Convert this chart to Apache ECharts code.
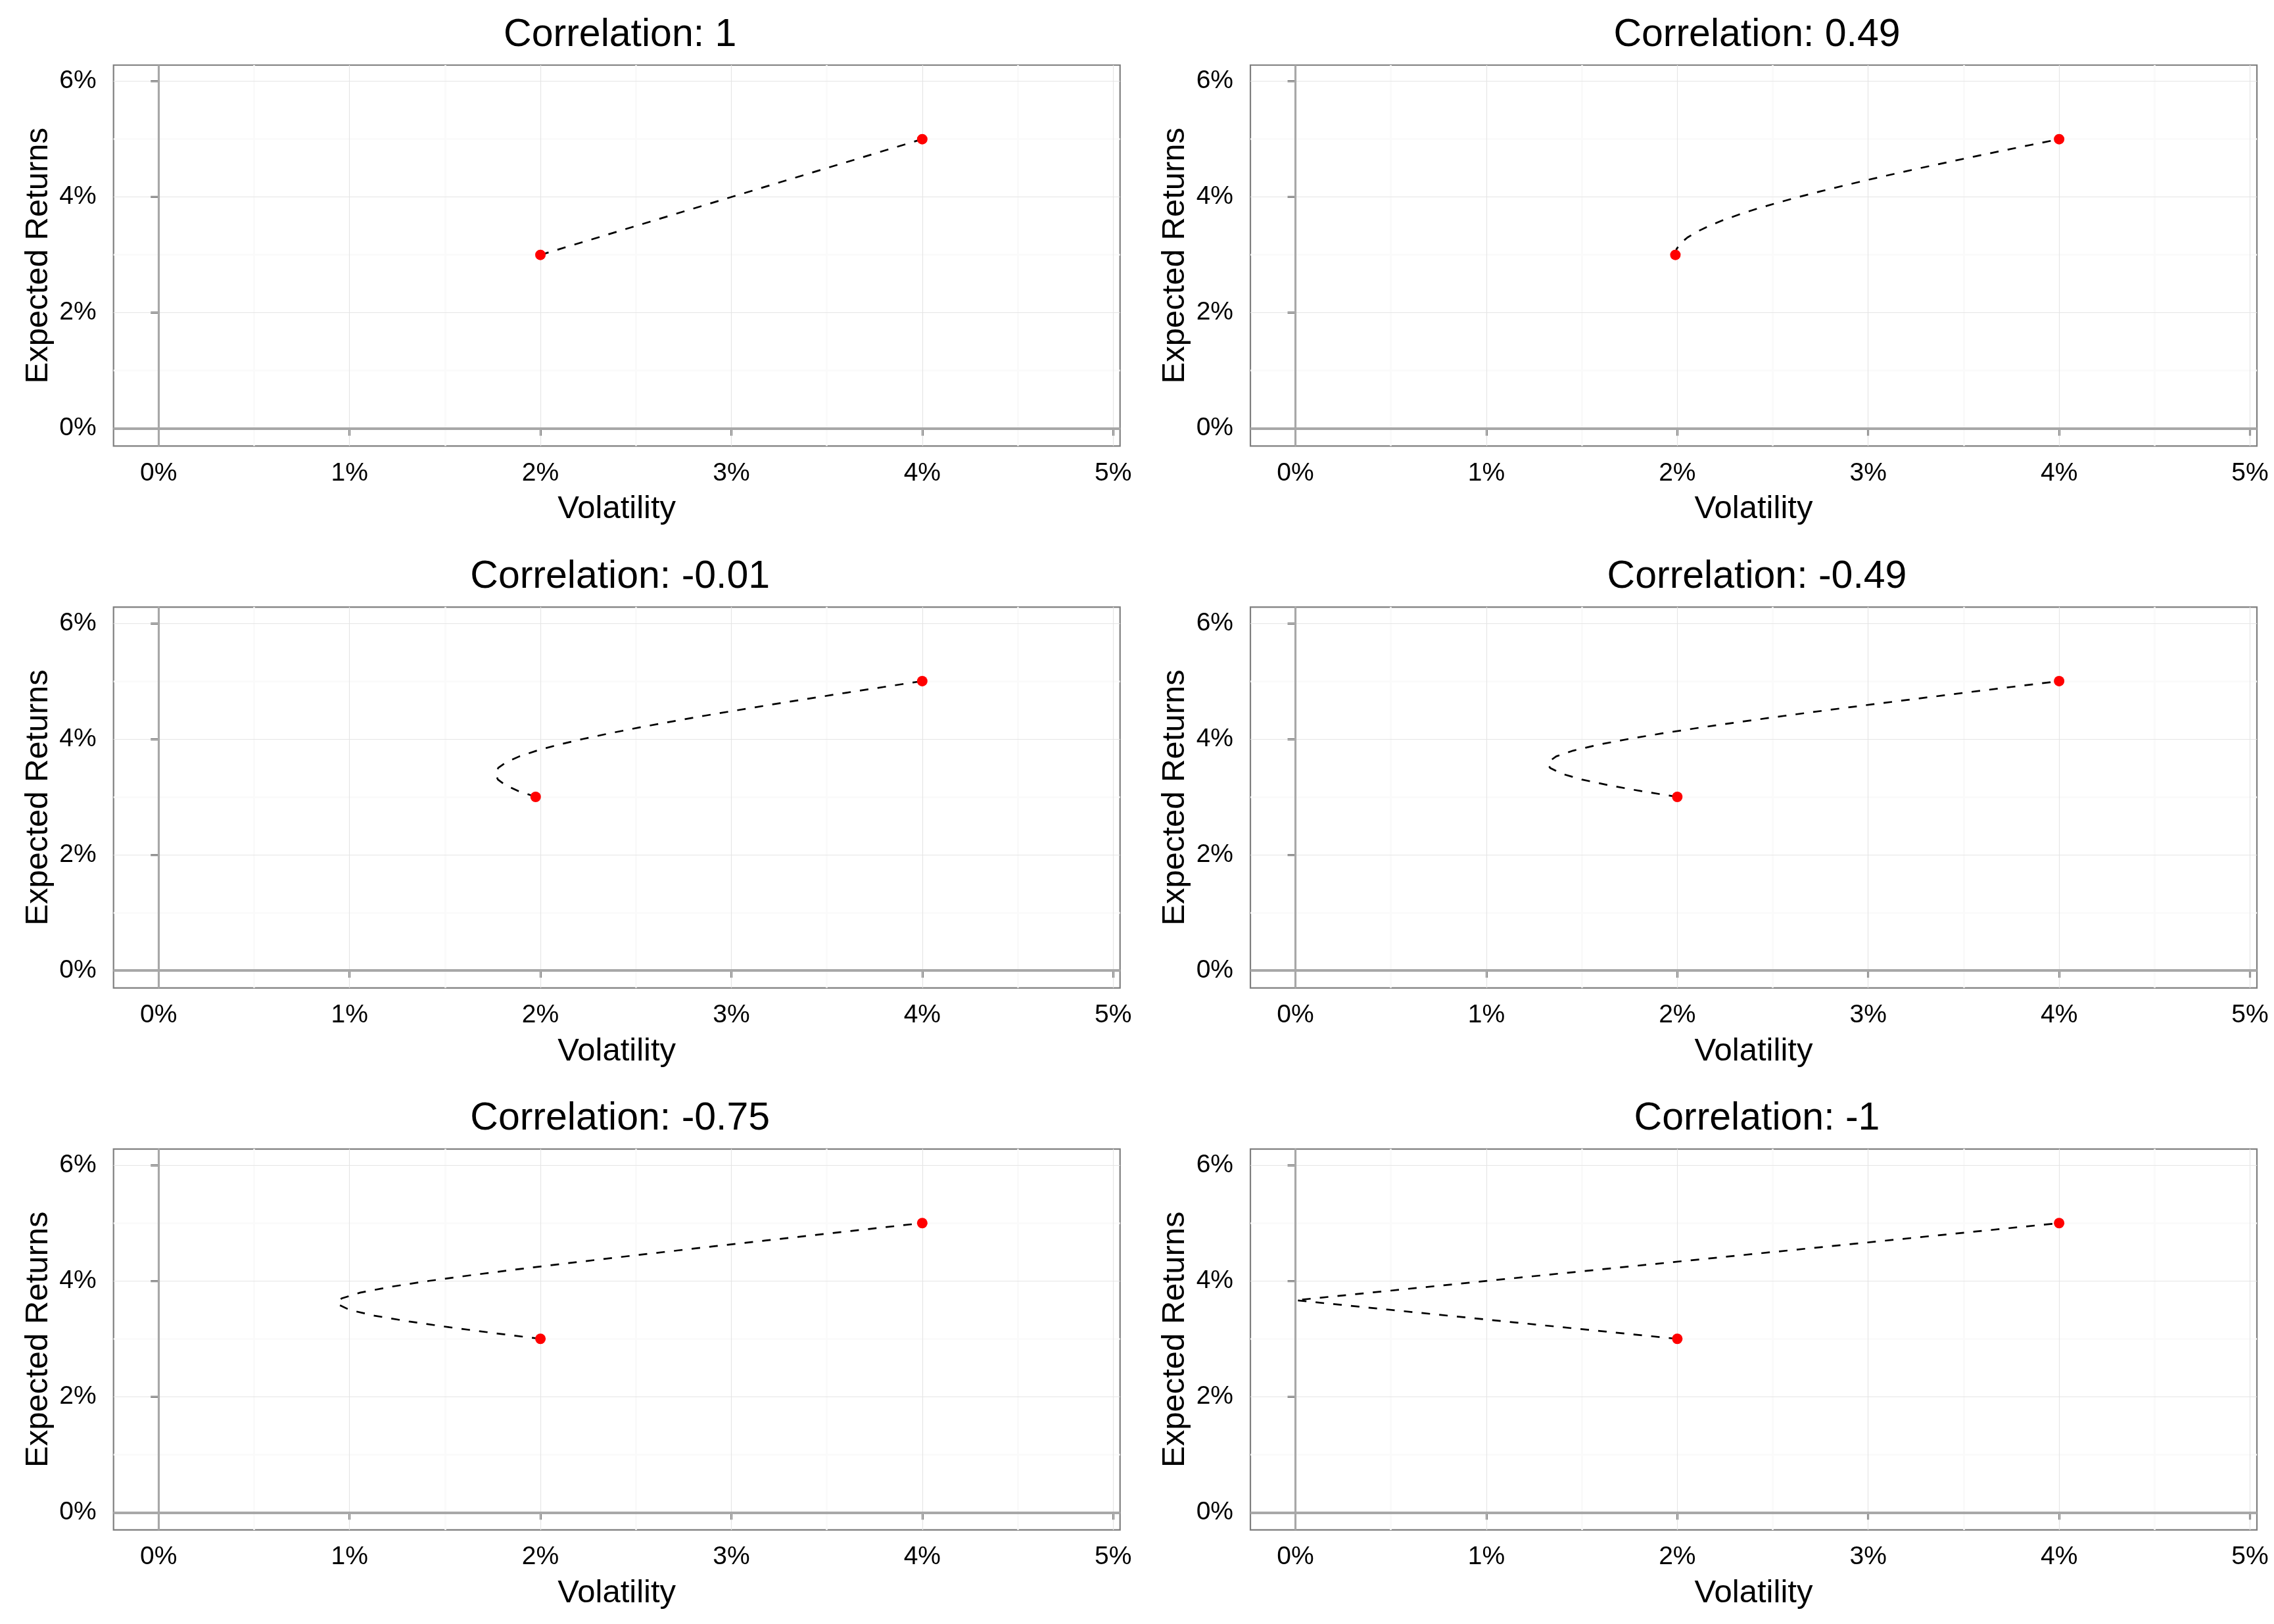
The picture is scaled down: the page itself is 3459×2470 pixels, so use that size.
<!DOCTYPE html>
<html>
<head>
<meta charset="utf-8">
<script src="https://cdn.jsdelivr.net/npm/echarts@6/dist/echarts.min.js"></script>
<style>
  html, body { margin: 0; padding: 0; background: #fff; }
  #chart { width: 3459px; height: 2470px; }
</style>
</head>
<body>
<div id="chart"></div>
<script>
// ---- Data ----
const panelTitles = ['Correlation: 1', 'Correlation: 0.49', 'Correlation: -0.01',
                     'Correlation: -0.49', 'Correlation: -0.75', 'Correlation: -1'];

// the two assets: [volatility %, expected return %]
const assets1 = [[2.0, 3.0], [4.0, 5.0]];
const assets2 = [[1.99, 3.0], [4.0, 5.0]];
const assets3 = [[1.975, 3.0], [4.0, 5.0]];
const assets4 = [[2.0, 3.0], [4.0, 5.0]];
const assets5 = [[2.0, 3.0], [4.0, 5.0]];
const assets6 = [[2.0, 3.0], [4.0, 5.0]];

// portfolio frontier curves: [volatility %, expected return %]
const frontier1 = [[2.0, 3.0], [4.0, 5.0]];
const frontier2 = [[1.990,3.0],[1.996,3.1],[2.017,3.2],[2.053,3.3],[2.103,3.4],[2.166,3.5],[2.240,3.6],
  [2.326,3.7],[2.420,3.8],[2.524,3.9],[2.634,4.0],[2.752,4.1],[2.875,4.2],[3.003,4.3],[3.136,4.4],
  [3.273,4.5],[3.413,4.6],[3.556,4.7],[3.702,4.8],[3.850,4.9],[4.0,5.0]];
const frontier3 = [[1.975,3.0],[1.885,3.1],[1.818,3.2],[1.777,3.3],[1.764,3.4],[1.779,3.5],[1.822,3.6],
  [1.890,3.7],[1.982,3.8],[2.093,3.9],[2.222,4.0],[2.365,4.1],[2.519,4.2],[2.684,4.3],[2.856,4.4],
  [3.036,4.5],[3.220,4.6],[3.410,4.7],[3.603,4.8],[3.800,4.9],[4.0,5.0]];
const frontier4 = [[2.0,3.0],[1.810,3.1],[1.642,3.2],[1.500,3.3],[1.395,3.4],[1.334,3.5],[1.322,3.57],
  [1.324,3.6],[1.366,3.7],[1.456,3.8],[1.584,3.9],[1.744,4.0],[1.926,4.1],[2.126,4.2],[2.338,4.3],
  [2.560,4.4],[2.789,4.5],[3.024,4.6],[3.264,4.7],[3.506,4.8],[3.752,4.9],[4.0,5.0]];
const frontier5 = [[2.0,3.0],[1.755,3.1],[1.523,3.2],[1.312,3.3],[1.131,3.4],[1.0,3.5],[0.938,3.6],
  [0.935,3.625],[0.959,3.7],[1.058,3.8],[1.217,3.9],[1.414,4.0],[1.637,4.1],[1.876,4.2],[2.126,4.3],
  [2.383,4.4],[2.646,4.5],[2.912,4.6],[3.181,4.7],[3.453,4.8],[3.726,4.9],[4.0,5.0]];
const frontier6 = [[2.0, 3.0], [0.0, 3.667], [4.0, 5.0]];

const xTicks = [0, 1, 2, 3, 4, 5];
const yTicks = [0, 2, 4, 6];
const xMinorGrid = [0.5, 1.5, 2.5, 3.5, 4.5];
const yMinorGrid = [1, 3, 5];
const xLabel = 'Volatility';
const yLabel = 'Expected Returns';

const assetsList = [assets1, assets2, assets3, assets4, assets5, assets6];
const frontierList = [frontier1, frontier2, frontier3, frontier4, frontier5, frontier6];

// ---- Layout ----
const FONT = '"Liberation Sans", Arial, sans-serif';
const colLeft = [172.7, 1902];
const rowTop = [99, 923.3, 1747.6];
const plotW = 1531, plotH = 579.3;

const grids = [], xAxes = [], yAxes = [], titles = [], series = [];

for (let i = 0; i < 6; i++) {
  const c = i % 2, r = Math.floor(i / 2);
  grids.push({
    left: colLeft[c], top: rowTop[r], width: plotW, height: plotH,
    show: true, backgroundColor: '#ffffff', borderColor: '#7f7f7f', borderWidth: 2.2,
    containLabel: false, outerBoundsMode: 'none'
  });
  titles.push({
    text: panelTitles[i], left: colLeft[c] + plotW / 2, top: rowTop[r] - 80, textAlign: 'center',
    textStyle: { fontSize: 59, fontWeight: 'normal', color: '#000', fontFamily: FONT }
  });
  xAxes.push({
    gridIndex: i, type: 'value', min: -0.236, max: 5.036,
    axisLine: { show: false },
    axisTick: { show: true, customValues: xTicks, length: 11, lineStyle: { color: '#333', width: 2.6 } },
    axisLabel: { customValues: xTicks, formatter: v => v + '%', color: '#000', fontSize: 39,
                 margin: 22, fontFamily: FONT },
    splitLine: { show: false },
    name: xLabel, nameLocation: 'middle', nameGap: 72,
    nameTextStyle: { fontSize: 49, color: '#000', fontFamily: FONT }
  });
  yAxes.push({
    gridIndex: i, type: 'value', min: -0.302, max: 6.28,
    axisLine: { show: false },
    axisTick: { show: true, customValues: yTicks, length: 12, lineStyle: { color: '#333', width: 2.6 } },
    axisLabel: { customValues: yTicks, formatter: v => v + '%', color: '#000', fontSize: 39,
                 margin: 26, fontFamily: FONT, padding: [8, 0, 0, 0] },
    splitLine: { show: false },
    name: yLabel, nameLocation: 'middle', nameGap: 90, nameRotate: 90,
    nameTextStyle: { fontSize: 49, color: '#000', fontFamily: FONT }
  });

  const gridLines = [];
  xMinorGrid.forEach(v => gridLines.push({ xAxis: v, lineStyle: { color: '#fafafa', width: 2.7, type: 'solid' } }));
  yMinorGrid.forEach(v => gridLines.push({ yAxis: v, lineStyle: { color: '#fafafa', width: 2.7, type: 'solid' } }));
  xTicks.forEach(v => gridLines.push({ xAxis: v, lineStyle: { color: '#e5e5e5', width: 1.2, type: 'solid' } }));
  yTicks.forEach(v => gridLines.push({ yAxis: v, lineStyle: { color: '#e5e5e5', width: 1.2, type: 'solid' } }));
  gridLines.push({ yAxis: 0, lineStyle: { color: '#a8a8a8', width: 4, type: 'solid' } });
  gridLines.push({ xAxis: 0, lineStyle: { color: '#a8a8a8', width: 3.2, type: 'solid' } });

  series.push({
    type: 'line', xAxisIndex: i, yAxisIndex: i, data: frontierList[i],
    showSymbol: false, smooth: false, z: 3, silent: true,
    lineStyle: { color: '#000', width: 2.7, type: [13, 14] }
  });
  series.push({
    type: 'scatter', xAxisIndex: i, yAxisIndex: i, data: assetsList[i],
    symbol: 'circle', symbolSize: 16, z: 4, silent: true,
    itemStyle: { color: '#ff0000', opacity: 1 },
    markLine: {
      silent: true, symbol: ['none', 'none'], z: 1, animation: false,
      label: { show: false }, emphasis: { disabled: true },
      data: gridLines
    }
  });
}

const chart = echarts.init(document.getElementById('chart'), null, { renderer: 'canvas' });
chart.setOption({
  backgroundColor: '#ffffff',
  animation: false,
  title: titles,
  grid: grids,
  xAxis: xAxes,
  yAxis: yAxes,
  series: series
});
</script>
</body>
</html>
